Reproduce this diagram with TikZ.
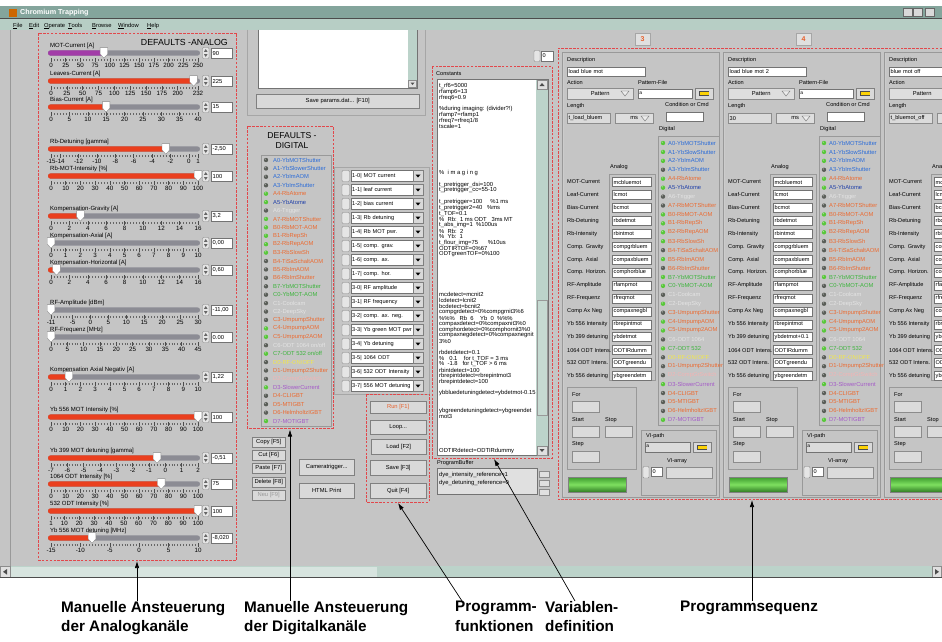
\documentclass[tikz,border=0pt]{standalone}
\usepackage{fontspec}
\setmainfont{Liberation Sans}
\usetikzlibrary{arrows.meta,positioning,calc}
\definecolor{guigray}{HTML}{C5C5C5}
\definecolor{titlebar}{HTML}{84A59C}
\definecolor{menubar}{HTML}{B7CEC5}
\definecolor{scrollbg}{HTML}{BCD3CA}
\definecolor{redline}{HTML}{E2474B}
\definecolor{trackgray}{HTML}{8C8C94}
\definecolor{fillred}{HTML}{EA3F1E}
\definecolor{fillpurple}{HTML}{A23CA8}
\definecolor{ledon}{HTML}{58C83A}
\definecolor{ledoff}{HTML}{5A5E58}
\definecolor{dblue}{HTML}{2A6BD8}
\definecolor{dnavy}{HTML}{1F3FA8}
\definecolor{dorange}{HTML}{EC6A30}
\definecolor{dgreen}{HTML}{3CB43C}
\definecolor{dlgray}{HTML}{E4E4E4}
\definecolor{dyellow}{HTML}{F2E84A}
\definecolor{dpink}{HTML}{F2B4B4}
\definecolor{dpurple}{HTML}{A45AC8}
\definecolor{runred}{HTML}{E8602C}
\definecolor{barlight}{HTML}{7EE060}
\definecolor{bardark}{HTML}{3C9A2C}

\newcommand\deflabels{A0-YbMOTShutter/dblue, A1-YbSlowerShutter/dblue, A2-YbImAOM/dblue, A3-YbImShutter/dblue, A4-RbAtome/dorange, A5-YbAtome/dnavy, A6-Trigger/dlgray, A7-RbMOTShutter/dorange, B0-RbMOT-AOM/dorange, B1-RbRepSh/dorange, B2-RbRepAOM/dorange, B3-RbSlowSh/dorange, B4-TiSaSchaltAOM/dorange, B5-RbImAOM/dorange, B6-RbImShutter/dorange, B7-YbMOTShutter/dgreen, C0-YbMOT-AOM/dgreen, C1-Coolcam/dlgray, C2-DeepSky/dlgray, C3-UmpumpShutter/dorange, C4-UmpumpAOM/dorange, C5-Umpump2AOM/dorange, {C6-ODT 1064 on/off}/dlgray, {C7-ODT 532 on/off}/dgreen, {D0-RF-ON/OFF}/dyellow, D1-Umpump2Shutter/dorange, D2-CompGrSwitch/dpink, D3-SlowerCurrent/dpurple, D4-CLIGBT/dorange, D5-MTIGBT/dorange, D6-HelmholtzIGBT/dorange, D7-MOTIGBT/dpurple}
\newcommand\seqlabels{A0-YbMOTShutter/dblue, A1-YbSlowShutter/dblue, A2-YbImAOM/dblue, A3-YbImShutter/dblue, A4-RbAtome/dorange, A5-YbAtome/dnavy, A6-Trigger/dlgray, A7-RbMOTShutter/dorange, B0-RbMOT-AOM/dorange, B1-RbRepSh/dorange, B2-RbRepAOM/dorange, B3-RbSlowSh/dorange, B4-TiSaSchaltAOM/dorange, B5-RbImAOM/dorange, B6-RbImShutter/dorange, B7-YbMOTShutter/dgreen, C0-YbMOT-AOM/dgreen, C1-Coolcam/dlgray, C2-DeepSky/dlgray, C3-UmpumpShutter/dorange, C4-UmpumpAOM/dorange, C5-Umpump2AOM/dorange, C6-ODT 1064/dlgray, C7-ODT 532/dgreen, {D0-RF-ON/OFF}/dyellow, D1-Umpump2Shutter/dorange, D2-CompGrSwitch/dpink, D3-SlowerCurrent/dpurple, D4-CLIGBT/dorange, D5-MTIGBT/dorange, D6-HelmholtzIGBT/dorange, D7-MOTIGBT/dpurple}

% one slider of the analog defaults
\newcommand\anaslider[8]{%
  \pgfmathsetmacro\sx{51+((#5)-(#3))/((#4)-(#3))*147}
  \node[slab] at (50,#1-7.5) {#2};
  \fill[trackgray, rounded corners=2.5pt] (48,#1-2.6) rectangle (200,#1+2.6);
  \fill[#8, rounded corners=2.5pt] (48,#1-2.6) rectangle (\sx+1,#1+2.6);
  \draw[minorticks] (51,#1+6.8) -- (198,#1+6.8);
  \foreach \t in {#6}{
    \pgfmathsetmacro\tx{51+(\t-(#3))/((#4)-(#3))*147}
    \draw[black!70, line width=0.5pt] (\tx,#1+5.3) -- (\tx,#1+8.6);
    \node[snum] at (\tx,#1+12.6) {\t};}
  \filldraw[fill=white, draw=black!45, line width=0.4pt] (\sx-3.8,#1-5.4) -- (\sx+3.8,#1-5.4) -- (\sx+3.8,#1+1) -- (\sx,#1+5.2) -- (\sx-3.8,#1+1) -- cycle;
  \draw[spinbox] (202.5,#1-5.5) rectangle (209,#1+5.5);
  \fill[black!60] (204,#1-1.2) -- (207.5,#1-1.2) -- (205.75,#1-4) -- cycle;
  \fill[black!60] (204,#1+1.2) -- (207.5,#1+1.2) -- (205.75,#1+4) -- cycle;
  \node[valbox] at (211,#1) {#7};}

% column of digital lines with LEDs
\newcommand\ledlist[6]{%
  \foreach \lab/\col [count=\i from 0] in #1 {
    \pgfmathtruncatemacro\st{{#6}[\i]}
    \ifnum\st=1 \def\lc{ledon}\else\def\lc{ledoff}\fi
    \fill[\lc] (#2,#4+#5*\i) circle (2.2);
    \fill[white, opacity=0.45] (#2-0.7,#4+#5*\i-0.8) circle (0.7);
    \node[dlab, text=\col] at (#3,#4+#5*\i) {\lab};}}

% one step of the sequence
\newcommand\seqstep[6]{%
  \begin{scope}[shift={(#1,0)}]
    \draw[black!40] (0.5,52) rectangle (157.5,497);
    \draw[white!80!black] (1.5,53) -- (1.5,496);
    \node[tabbox] at (80.5,39) {#2};
    \node[glab] at (5,60) {Description};
    \node[entry, text width=75, minimum height=9] at (5,67) {#3};
    \node[glab] at (5,82) {Action};
    \node[glab] at (76,82) {Pattern-File};
    \node[ring, minimum width=66, minimum height=11] at (5,88) {Pattern\hspace{12pt}};
    \draw[black!55, fill=black!8] (59,91) -- (67,91) -- (63,96) -- cycle;
    \draw[black!55, fill=white] (76,89) rectangle (130,98.5);
    \node[font=\fontsize{5}{5}\selectfont] at (79,93.8) {\textsuperscript{a}};
    \node[btn, minimum width=18, minimum height=11] at (133,88) {};
    \fill[black!70] (137,91) rectangle (147,96);
    \fill[yellow!70!orange] (138,92.3) rectangle (146.5,95.3);
    \node[glab] at (5,106) {Length};
    \node[glab] at (103,104.5) {Condition or Cmd};
    \node[ind, text width=40, minimum height=10] at (5,113) {#4};
    \node[ring, minimum width=38, minimum height=10] at (53,113) {ms\hspace{12pt}};
    \draw[black!55, fill=black!8] (79,116) -- (87,116) -- (83,121) -- cycle;
    \draw[black!55, fill=white] (104,112) rectangle (141,121);
    \node[glab] at (97,129) {Digital};
    \node[glab] at (48,167) {Analog};
    \draw[black!40] (47,174) rectangle (93,380.5);
    \foreach \a [count=\k from 0] in {MOT-Current, Leaf-Current, Bias-Current, Rb-Detuning, Rb-Intensity, Comp. Gravity, Comp. Axial, Comp. Horizon., RF-Amplitude, RF-Frequenz, Comp Ax Neg, Yb 556 Intensity, Yb 399 detuning, 1064 ODT Intens., 532 ODT Intens., Yb 556 detuning}
      \node[glab] at (5,182+12.93*\k) {\a};
    \foreach \v [count=\k from 0] in {#5}
      \node[entry, anchor=west, text width=36, minimum height=9] at (50,182+12.93*\k) {\v};
    \draw[black!40] (96,136) rectangle (157,425);
    \ledlist{\seqlabels}{101}{106}{143}{8.93}{#6}
    % loop settings
    \draw[black!40] (5,387) rectangle (74,469);
    \node[glab] at (10,395) {For};
    \node[glab] at (10,420) {Start};
    \node[glab] at (43,420) {Stop};
    \node[glab] at (10,444.5) {Step};
    \foreach \bx/\by in {10/401, 10/426, 43/426, 10/451}
      \draw[black!45, fill=black!14] (\bx,\by) rectangle (\bx+27,\by+11);
    \shade[top color=bardark, bottom color=bardark!80!black, middle color=barlight] (6,477) rectangle (64,492);
    \draw[black!50] (6,477) rectangle (64,492);
    % VI path
    \draw[black!40] (79,430) rectangle (154,495);
    \node[glab] at (84,436) {VI-path};
    \draw[black!55, fill=black!14] (83,442) rectangle (128,452);
    \node[font=\fontsize{5}{5}\selectfont] at (86,447) {\textsuperscript{a}};
    \node[btn, minimum width=18, minimum height=10] at (131,442) {};
    \fill[black!70] (135,444.5) rectangle (145,449.5);
    \fill[yellow!70!orange] (136,445.6) rectangle (144.5,448.6);
    \node[glab, anchor=center] at (115,461) {VI-array};
    \draw[spinbox] (81,466.5) rectangle (87,478);
    \node[entry, anchor=west, text width=8, minimum height=9] at (89,472) {0};
    \draw[black!45, fill=black!14] (104,467) rectangle (150,478);
  \end{scope}}

\begin{document}
\begin{tikzpicture}[x=1pt, y=-1pt, every node/.style={inner sep=0pt},
  redbox/.style={draw=redline, line width=0.7pt, dash pattern=on 2.6pt off 1.3pt},
  groove/.style={draw=black!35, line width=0.5pt},
  glab/.style={font=\fontsize{5.6}{6}\selectfont, anchor=west},
  menu/.style={font=\fontsize{5.8}{7}\selectfont, anchor=base west},
  slab/.style={font=\fontsize{6}{6}\selectfont, anchor=west},
  snum/.style={font=\fontsize{6.2}{7}\selectfont},
  dlab/.style={font=\fontsize{5.8}{6}\selectfont, anchor=west},
  ctext/.style={font=\fontsize{5.85}{6}\selectfont, anchor=west},
  minorticks/.style={draw=black!60, line width=2pt, dash pattern=on 0.45pt off 2.49pt},
  spinbox/.style={draw=black!45, fill=black!10, rounded corners=1pt},
  valbox/.style={draw=black!55, fill=white, anchor=west, minimum height=10, text width=18, inner xsep=1.5pt, align=left, font=\fontsize{5.8}{6}\selectfont},
  entry/.style={draw=black!55, fill=white, anchor=north west, inner xsep=1.5pt, align=left, font=\fontsize{5.6}{6}\selectfont},
  ind/.style={draw=black!45, fill=black!14, anchor=north west, inner xsep=1.5pt, align=left, font=\fontsize{5.6}{6}\selectfont},
  ring/.style={draw=black!45, fill=black!13, anchor=north west, font=\fontsize{5.8}{6}\selectfont},
  btn/.style={draw=black!50, fill=black!15, font=\fontsize{5.8}{6}\selectfont, anchor=north west},
  tabbox/.style={draw=black!35, fill=black!12, minimum width=15, minimum height=12, text=runred, font=\fontsize{7}{8}\selectfont\bfseries},
  biglab/.style={font=\fontsize{15.3}{19.5}\selectfont\bfseries, align=left, anchor=north west},
  arr/.style={-{Latex[length=7pt, width=4.5pt]}, line width=0.7pt}]
  \useasboundingbox (0,0) rectangle (942,641);
  \clip (0,0) rectangle (942,641);
  \fill[white] (0,0) rectangle (942,641);
  % window
  \fill[titlebar] (0,6) rectangle (942,18.5);
  \fill[orange!80!black] (9,8.5) rectangle (17,16.5);
  \node[font=\fontsize{7.2}{8}\selectfont\bfseries, text=white, anchor=west] (title) at (20,12.5) {Chromium Trapping};
  \foreach \wx in {903,913,925}
    \draw[black!60, fill=black!15] (\wx,8) rectangle (\wx+9,16);
  \fill[menubar] (0,18.5) rectangle (942,29.5);
  \draw[black!70] (0,18.5) -- (942,18.5);
  \foreach \m/\mx in {\underline{F}ile/13, \underline{E}dit/29, \underline{O}perate/44, \underline{T}ools/68, \underline{B}rowse/92, \underline{W}indow/118, \underline{H}elp/147}
    \node[menu] (menu-\mx) at (\mx,27) {\m};
  \fill[guigray] (0,29.5) rectangle (942,566);
  \fill[scrollbg] (0,566) rectangle (942,577.5);
  \fill[scrollbg!60!white] (11,567) rectangle (377,576.5);
  \draw[black!45, fill=black!12] (0.5,566.5) rectangle (10,577);
  \draw[black!45, fill=black!12] (932,566.5) rectangle (941.5,577);
  \fill[black!70] (3,571.8) -- (7,569) -- (7,574.6) -- cycle;
  \fill[black!70] (939,571.8) -- (935,569) -- (935,574.6) -- cycle;
  \draw[black!70] (0,577.5) -- (942,577.5);
  \draw[black!40] (10.5,29.5) -- (10.5,566);

  % analog defaults
  \draw[redbox] (38.5,33) rectangle (236.5,560);
  \node[font=\fontsize{8.8}{10}\selectfont, anchor=east] (anatitle) at (228,42) {DEFAULTS -ANALOG};
  \anaslider{53}{MOT-Current [A]}{0}{250}{90}{0,25,...,250}{90}{fillpurple}
  \anaslider{81}{Leaves-Current [A]}{0}{232}{225}{0,25,50,75,100,125,150,175,200,232}{225}{fillred}
  \anaslider{107}{Bias-Current [A]}{0}{40}{15}{0,5,...,40}{15}{fillred}
  \anaslider{149}{Rb-Detuning [gamma]}{-15}{1}{-2.5}{-15,-14,-12,-10,-8,-6,-4,-2,0,1}{-2,50}{fillred}
  \anaslider{176}{Rb-MOT-Intensity [\%]}{0}{100}{100}{0,10,...,100}{100}{fillred}
  \anaslider{216}{Kompensation-Gravity [A]}{0}{16}{3.2}{0,2,...,16}{3,2}{fillred}
  \anaslider{243}{Kompensation-Axial [A]}{0}{10}{0}{0,1,...,10}{0,00}{fillred}
  \anaslider{270}{Kompensation-Horizontal [A]}{0}{16}{0.6}{0,2,...,16}{0,60}{fillred}
  \anaslider{310}{RF-Amplitude [dBm]}{-11}{30}{-11}{-11,-5,0,5,10,15,20,25,30}{-11,00}{fillred}
  \anaslider{337}{RF-Frequenz [MHz]}{0}{45}{0}{0,5,...,45}{0.00}{fillred}
  \anaslider{377}{Kompensation Axial Negativ [A]}{0}{10}{1.22}{0,1,...,10}{1,22}{fillred}
  \anaslider{417}{Yb 556 MOT Intensity [\%]}{0}{100}{100}{0,10,...,100}{100}{fillred}
  \anaslider{458}{Yb 399 MOT detuning [gamma]}{-7}{2}{-0.51}{-7,-6,...,2}{-0,51}{fillred}
  \anaslider{484}{1064 ODT Intensity [\%]}{0}{100}{75}{0,10,...,100}{75}{fillred}
  \anaslider{511}{532 ODT Intensity [\%]}{1}{100}{100}{1,10,20,30,40,50,60,70,80,90,100}{100}{fillred}
  \anaslider{538}{Yb 556 MOT detuning [MHz]}{-15}{10}{-8.02}{-15,-10,...,10}{-8,020}{fillred}

  % parameter file box
  \draw[groove] (247,29.5) -- (247,115) -- (425,115) -- (425,29.5);
  \fill[white] (258,29.5) rectangle (408,88);
  \fill[scrollbg] (408,29.5) rectangle (417,88);
  \draw[black!55] (258,29.5) -- (258,88) -- (417,88) -- (417,29.5);
  \draw[black!45, fill=black!12] (408.5,80) rectangle (416.5,87.5);
  \fill[black!70] (410.5,82.5) -- (414.5,82.5) -- (412.5,85) -- cycle;
  \node[btn, minimum width=163, minimum height=14] (saveparams) at (256,94) {Save params.dat... [F10]};

  % digital defaults
  \draw[redbox] (247,126) rectangle (333,428);
  \node[font=\fontsize{8.6}{10}\selectfont, align=center] (digtitle) at (292,140.5) {DEFAULTS -\\DIGITAL};
  \draw[black!40] (261,155) rectangle (331,426);
  \ledlist{\deflabels}{266}{273}{160}{8.42}{0,0,0,0,1,1,0,1,1,1,1,1,0,0,0,0,0,0,0,0,1,1,0,1,0,0,0,1,0,0,0,1}

  % channel rings
  \draw[groove] (334,167) rectangle (429,394);
  \foreach \r [count=\k from 0] in {1-0| MOT current, 1-1| leaf current, 1-2| bias current, 1-3| Rb detuning, 1-4| Rb MOT pwr., 1-5| comp. grav., 1-6| comp. ax., 1-7| comp. hor., 3-0| RF amplitude, 3-1| RF frequency, 3-2| comp. ax. neg., 3-3| Yb green MOT pwr, 3-4| Yb detuning, 3-5| 1064 ODT, 3-6| 532 ODT Intensity, 3-7| 556 MOT detuning}{
    \draw[spinbox] (342,176+14*\k-5.5) rectangle (349.5,176+14*\k+5.5);
    \node[entry, anchor=west, text width=59, minimum height=11] (ring\k) at (350.5,176+14*\k) {\makebox[59pt][l]{\r}};
    \draw[black!50, fill=black!15] (413,176+14*\k-5.5) rectangle (423,176+14*\k+5.5);
    \fill[black] (415.5,176+14*\k-1.5) -- (420.5,176+14*\k-1.5) -- (418,176+14*\k+1.5) -- cycle;}

  % edit and print buttons
  \foreach \b/\by [count=\k] in {Copy [F5]/437, Cut [F6]/450, Paste [F7]/463, Delete [F8]/477}
    \node[btn, minimum width=33, minimum height=9.5] (edit\k) at (252,\by) {\b};
  \node[btn, minimum width=33, minimum height=9.5, text=black!40] (editneu) at (252,490) {Neu [F9]};
  \node[btn, minimum width=55, minimum height=16] (camtrig) at (299,459) {Cameratrigger...};
  \node[btn, minimum width=55, minimum height=15] (htmlprint) at (299,483) {HTML Print};

  % program functions
  \draw[redbox] (366,394) rectangle (429,502);
  \node[btn, minimum width=56, minimum height=12, text=runred] (run) at (370,401) {Run [F1]};
  \node[btn, minimum width=56, minimum height=14] (loop) at (370,420) {Loop...};
  \node[btn, minimum width=55, minimum height=15] (load) at (371,439) {Load [F2]};
  \node[btn, minimum width=56, minimum height=15] (save) at (370,460) {Save [F3]};
  \node[btn, minimum width=56, minimum height=15] (quit) at (370,483) {Quit [F4]};

  % constants
  \draw[spinbox] (534,50.5) rectangle (540,61.5);
  \node[entry, anchor=west, text width=9, minimum height=10] (stepidx) at (541,56) {0};
  \draw[redbox] (432,66) rectangle (552,458);
  \node[glab] (consttitle) at (436,73.5) {Constants};
  \fill[white] (437,79) rectangle (536,455.5);
  \fill[scrollbg] (536,79) rectangle (548,455.5);
  \draw[black!55] (437,79) rectangle (548,455.5);
  \draw[black!45, fill=black!12] (537,80) rectangle (547,89);
  \fill[black!70] (539.5,86) -- (544.5,86) -- (542,83) -- cycle;
  \draw[black!45, fill=black!12] (537,446) rectangle (547,455);
  \fill[black!70] (539.5,449) -- (544.5,449) -- (542,452) -- cycle;
  \draw[black!40, fill=scrollbg!85!white] (537,300) rectangle (547,415);
  \begin{scope}
    \clip (437,79) rectangle (536,455.5);
    \foreach \k/\c in {0/t\_rf6=5000, 1/rfamp6=13, 2/rfreq6=0.9, 4/\%during imaging: (divider?!), 5/rfamp7=rfamp1, 6/{rfreq7=rfreq1/8}, 7/tscale=1, 15/\%\ \ i m a g i n g, 17/t\_pretrigger\_dsi=100, 18/t\_pretrigger\_cc=55-10, 20/t\_pretrigger=100\ \ \ \ \ \%1 ms, 21/t\_pretrigger2=40\ \ \ \%ms, 22/t\_TOF=0.1, 23/\%\ \ Rb:\ \ 1 ms ODT\ \ \ 3ms MT, 24/t\_abs\_img=1\ \ \%100us, 25/\%\ \ Rb:\ \ 2, 26/\%\ \ Yb:\ \ 1, 27/t\_flour\_img=75\ \ \ \ \ \ \%10us, 28/ODTIRTOF=0\%67, 29/ODTgreenTOF=0\%100, 36/mcdetect=mcnit2, 37/lcdetect=lcnit2, 38/bcdetect=bcnit2, 39/compgrdetect=0\%compgrnit3\%6, 40/\%\%\%\ \ \ Rb\ \ 6\ \ \ \ Yb\ \ 0\ \ \%\%\%, 41/compaxdetect=0\%compaxnit3\%0, 42/comphordetect=0\%comphornit3\%0, 43/compaxnegdetect=0\%compaxnegnit, 44/3\%0, 46/rbdetdetect=0.1, 47/\%\ \ \ 0.1\ \ \ \ for t\_TOF = 3 ms, 48/\%\ \ -1.8\ \ \ for t\_TOF > 6 ms, 49/rbintdetect=100, 50/rbrepintdetect=rbrepintmot3, 51/rbrepintdetect=100, 53/ybbluedetuningdetect=ybdetmot-0.15, 56/ybgreendetuningdetect=ybgreendet, 57/mot3, 63/ODTIRdetect=ODTIRdummy}
      \node[ctext] (const\k) at (439,86+5.8*\k) {\c};
  \end{scope}
  \node[glab] (buftitle) at (437,463) {ProgramBuffer};
  \draw[black!55, fill=black!12] (437,468) rectangle (537,494);
  \node[ctext] (buf1) at (439,474.5) {dye\_intensity\_reference=1};
  \node[ctext] (buf2) at (439,482.5) {dye\_detuning\_reference=0};
  \foreach \by in {471,480,489}
    \draw[black!45, fill=black!12] (539,\by) rectangle (549,\by+6.5);

  % sequence
  \draw[redbox] (946,48) -- (558,48) -- (558,499) -- (946,499);
  \seqstep{562}{3}{load blue mot}{t\_load\_bluem}{mcbluemot, lcmot, bcmot, rbdetmot, rbintmot, compgrbluem, compaxbluem, comphorblue, rfampmot, rfreqmot, compaxnegbl, rbrepintmot, ybdetmot, ODTIRdumm, ODTgreendu, ybgreendetm}{1,1,1,0,1,1,0,0,1,1,1,1,0,1,0,1,1,0,1,0,1,1,0,1,0,0,0,1,0,0,0,1}
  \seqstep{723}{4}{load blue mot 2}{30}{mcbluemot, lcmot, bcmot, rbdetmot, rbintmot, compgrbluem, compaxbluem, comphorblue, rfampmot, rfreqmot, compaxnegbl, rbrepintmot, ybdetmot+0.1, ODTIRdumm, ODTgreendu, ybgreendetm}{1,1,1,0,1,1,0,0,1,1,1,0,0,0,0,1,0,0,0,0,1,1,0,1,0,0,0,1,0,0,0,1}
  \seqstep{884}{5}{blue mot off}{t\_bluemot\_off}{mcbluemot, lcmot, bcmot, rbdetmot, rbintmot, compgrbluem, compaxbluem, comphorblue, rfampmot, rfreqmot, compaxnegbl, rbrepintmot, ybdetmot, ODTIRdumm, ODTgreendu, ybgreendetm}{1,1,1,0,1,1,0,0,1,1,1,0,0,0,0,1,0,0,0,0,1,1,0,1,0,0,0,1,0,0,0,1}

  % captions
  \node[biglab] (lblAna) at (61,601) {Manuelle Ansteuerung\\der Analogkanäle};
  \node[biglab] (lblDig) at (244,601) {Manuelle Ansteuerung\\der Digitalkanäle};
  \node[biglab] (lblFun) at (455,601) {Programm-\\funktionen};
  \node[biglab] (lblVar) at (545,601) {Variablen-\\definition};
  \node[biglab] (lblSeq) at (680,601) {Programmsequenz};
  \coordinate (anaTip) at (137,561);
  \coordinate (digTip) at (290,429.5);
  \coordinate (funTip) at (398,503);
  \coordinate (varTip) at (494,459);
  \coordinate (seqTip) at (752,500);
  \draw[arr] (lblAna.north -| anaTip) -- (anaTip);
  \draw[arr] (lblDig.north -| digTip) -- (digTip);
  \draw[arr] ([xshift=7pt]lblFun.north west) -- (funTip);
  \draw[arr] ([xshift=30pt]lblVar.north west) -- (varTip);
  \draw[arr] (lblSeq.north -| seqTip) -- (seqTip);
\end{tikzpicture}
\end{document}
